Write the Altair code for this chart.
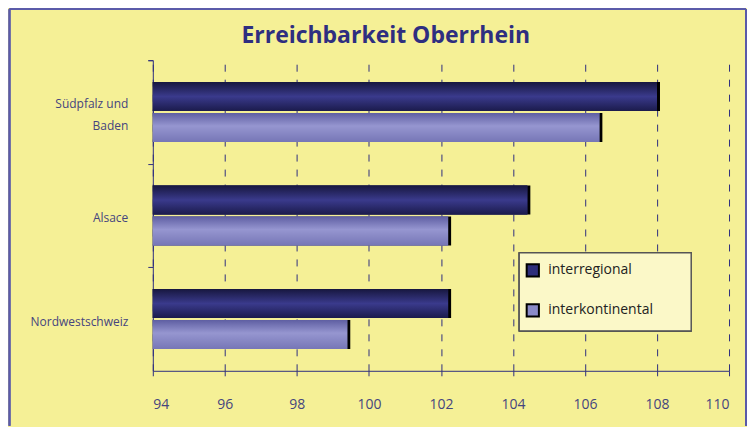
import altair as alt
import pandas as pd

categories = ["Südpfalz und Baden", "Alsace", "Nordwestschweiz"]
series = ["interregional", "interkontinental"]
interregional = [108.0, 104.4, 102.2]
interkontinental = [106.4, 102.2, 99.4]
x_ticks = [94, 96, 98, 100, 102, 104, 106, 108, 110]

rows = []
for c, a, b in zip(categories, interregional, interkontinental):
    rows.append({"region": c, "series": series[0], "value": a})
    rows.append({"region": c, "series": series[1], "value": b})
df = pd.DataFrame(rows)

NAVY = "#2E2E7E"
LABEL = "#45457E"
FONT = "Open Sans"
FRAME = "#5A5AAA"

H = 311
P_IN, P_OUT = 0.42, 0.21
STEP = H / (len(categories) - P_IN + 2 * P_OUT)
HALF_GAP = STEP * P_IN / 2
BANDW = STEP * (1 - P_IN)
LAB_OFF = BANDW / 2 - 6

grad_dark = {"gradient": "linear", "x1": 0, "y1": 0, "x2": 0, "y2": 1,
             "stops": [{"offset": 0, "color": "#17173F"},
                       {"offset": 0.5, "color": "#3A3A8C"},
                       {"offset": 1, "color": "#1B1B4C"}]}
grad_light = {"gradient": "linear", "x1": 0, "y1": 0, "x2": 0, "y2": 1,
              "stops": [{"offset": 0, "color": "#5E5EA2"},
                        {"offset": 0.45, "color": "#9696D0"},
                        {"offset": 1, "color": "#7676B6"}]}


def build(use_cond):
    yaxis_kw = dict(title=None, bandPosition=0, tickExtra=True, tickOffset=-HALF_GAP,
                    grid=False, domainColor=NAVY, tickColor=NAVY, tickSize=5,
                    labelFont=FONT, labelFontSize=12, labelColor=LABEL,
                    labelPadding=20, labelLineHeight=22,
                    labelExpr="datum.label == 'Südpfalz und Baden' ? ['Südpfalz und', 'Baden'] : datum.label")
    if use_cond:
        yaxis_kw["labelOffset"] = {"condition": {"test": "datum.value == 'Südpfalz und Baden'",
                                                 "value": LAB_OFF - 11}, "value": LAB_OFF}
    else:
        yaxis_kw["labelOffset"] = LAB_OFF

    base = alt.Chart(df).encode(
        y=alt.Y("region:N", sort=categories,
                scale=alt.Scale(paddingInner=P_IN, paddingOuter=P_OUT),
                axis=alt.Axis(**yaxis_kw)),
        yOffset=alt.YOffset("series:N", sort=series,
                            scale=alt.Scale(paddingInner=0.06, paddingOuter=0)),
        x=alt.X("value:Q", scale=alt.Scale(domain=[94, 110], zero=False, nice=False),
                axis=alt.Axis(values=x_ticks, title=None, grid=True, gridDash=[7, 8],
                              gridColor=NAVY, gridWidth=1, domainColor=NAVY, tickColor=NAVY,
                              tickSize=5, labelFont=FONT, labelFontSize=14, labelColor=LABEL,
                              labelPadding=22)),
        x2=alt.datum(94),
    )

    fx1, fx2, fy1, fy2 = -143.5, 594, -51, 366
    frame_top = alt.Chart(df).mark_rule(color=FRAME, strokeWidth=1.5).encode(
        x=alt.value(fx1), x2=alt.value(fx2), y=alt.value(fy1))
    frame_left = alt.Chart(df).mark_rule(color=FRAME, strokeWidth=1.5).encode(
        x=alt.value(fx1), y=alt.value(fy1), y2=alt.value(fy2))
    frame_right = alt.Chart(df).mark_rule(color=FRAME, strokeWidth=1.5).encode(
        x=alt.value(fx2), y=alt.value(fy1), y2=alt.value(fy2))

    legend_box = alt.Chart(df).mark_rect(fill="#FBF8C8", stroke="#555555", strokeWidth=1.2).encode(
        x=alt.value(367), x2=alt.value(539), y=alt.value(193), y2=alt.value(271)
    )

    shadow = base.mark_bar(color="black", xOffset=3, yOffset=3)

    solid = base.mark_bar().encode(
        color=alt.Color("series:N", sort=series,
                        scale=alt.Scale(domain=series, range=["#2E2E7A", "#8A8AC8"]),
                        legend=alt.Legend(orient="none", legendX=373, legendY=203, title=None,
                                          symbolType="square", symbolSize=150,
                                          symbolStrokeColor="black", symbolStrokeWidth=2,
                                          labelFont=FONT, labelFontSize=14, labelColor="#222222",
                                          padding=0, rowPadding=19, labelOffset=8))
    )

    grad = base.mark_bar().encode(
        fill=alt.condition(alt.datum.series == "interregional", alt.value(grad_dark), alt.value(grad_light))
    )

    return alt.layer(shadow, solid, grad, legend_box, frame_top, frame_left, frame_right).properties(
        width=577, height=H,
        padding={"left": 0, "top": 0, "right": 0, "bottom": 0},
        title=alt.TitleParams("Erreichbarkeit Oberrhein", font=FONT, fontSize=23, fontWeight="bold",
                              color="#2E2E80", anchor="middle", frame="bounds", offset=-40, dx=8),
        background="#F5F096",
    ).configure_view(stroke=None)


try:
    chart = build(True)
    chart.to_dict()
except Exception:
    chart = build(False)

chart.save("out.html", embed_options={"renderer": "svg", "actions": False})
